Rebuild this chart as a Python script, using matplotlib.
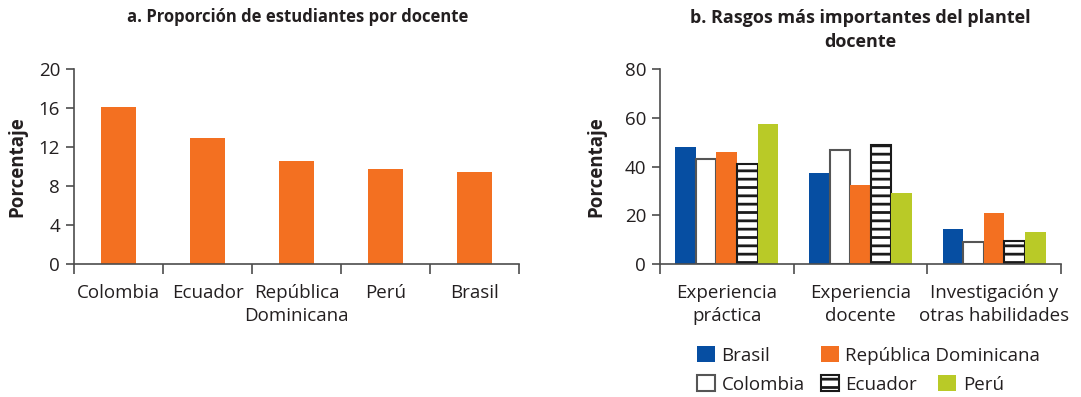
import numpy as np
import matplotlib.pyplot as plt

plt.rcParams['font.family'] = ['Open Sans', 'DejaVu Sans']
plt.rcParams['hatch.linewidth'] = 2.0

# a. estudiantes por docente
paises_a = ['Colombia', 'Ecuador', 'República\nDominicana', 'Perú', 'Brasil']
ratio_a = [16.1, 12.95, 10.55, 9.8, 9.4]

# b. rasgos del plantel docente
rasgos = ['Experiencia\npráctica', 'Experiencia\ndocente', 'Investigación y\notras habilidades']
series_b = ['Brasil', 'Colombia', 'República Dominicana', 'Ecuador', 'Perú']
brasil = [48.2, 37.3, 14.5]
colombia = [43.3, 46.8, 9.0]
rep_dom = [46.1, 32.5, 20.9]
ecuador = [41.0, 48.8, 9.7]
peru = [57.6, 29.2, 13.1]

texto = '#231f20'
eje = '#4d4d4d'
naranja = '#f37021'
azul = '#064ea2'
verde = '#b9ca27'

fig = plt.figure(figsize=(10.81, 3.97), dpi=100)
ax1 = fig.add_axes([0.0685, 0.3343, 0.4117, 0.492])
ax2 = fig.add_axes([0.6105, 0.3343, 0.371, 0.492])


def estilo_ejes(ax, n, ymax, paso, etiquetas, labelpad):
    for s in ['top', 'right']:
        ax.spines[s].set_visible(False)
    for s in ['left', 'bottom']:
        ax.spines[s].set_color(eje)
        ax.spines[s].set_linewidth(1.2)
    ax.set_xlim(-0.5, n - 0.5)
    ax.set_ylim(0, ymax)
    ax.set_yticks(np.arange(0, ymax + 1, paso))
    ax.set_xticks(np.arange(-0.5, n, 1.0))
    ax.set_xticklabels([])
    ax.set_xticks(np.arange(n), minor=True)
    ax.set_xticklabels(etiquetas, minor=True, fontsize=13.5, color=texto,
                       linespacing=1.4)
    ax.tick_params(axis='x', which='major', length=7, width=1.2, color=eje)
    ax.tick_params(axis='x', which='minor', length=0, pad=14)
    ax.tick_params(axis='y', length=6, width=1.2, color=eje, labelsize=13.5,
                   labelcolor=texto, pad=4)
    ax.set_ylabel('Porcentaje', fontsize=13.5, fontweight='bold', color=texto,
                  labelpad=labelpad)


# panel a
x = np.arange(len(paises_a))
ax1.bar(x, ratio_a, width=0.4, color=naranja, zorder=2)
estilo_ejes(ax1, len(paises_a), 20, 4, paises_a, 8)
fig.text(0.275, 0.957, 'a. Proporción de estudiantes por docente',
         fontsize=11.95, fontweight='bold', color=texto, ha='center', va='center')

# panel b
g = np.arange(len(rasgos))
w = 0.154
valores = [brasil, colombia, rep_dom, ecuador, peru]
estilos = [
    dict(color=azul),
    dict(facecolor='white', edgecolor='#555555', linewidth=1.5),
    dict(color=naranja),
    dict(facecolor='white', edgecolor='#1a1a1a', linewidth=1.5, hatch='--'),
    dict(color=verde),
]
barras = []
for i, (vals, est) in enumerate(zip(valores, estilos)):
    b = ax2.bar(g + (i - 2) * w, vals, width=w, zorder=2, **est)
    barras.append(b)
estilo_ejes(ax2, len(rasgos), 80, 20, rasgos, 13)
fig.text(0.7955, 0.924, 'b. Rasgos más importantes del plantel\ndocente',
         fontsize=13.0, fontweight='bold', color=texto, ha='center',
         va='center', linespacing=1.45)

# leyenda en dos filas
pos_leyenda = [(0.645, 0.105), (0.645, 0.032), (0.7595, 0.105),
               (0.7595, 0.032), (0.868, 0.032)]
for b, nombre, (lx, ly) in zip(barras, series_b, pos_leyenda):
    fig.legend([b], [nombre], loc='center left', bbox_to_anchor=(lx, ly),
               frameon=False, fontsize=13.5, handlelength=0.95,
               handleheight=0.95, handletextpad=0.35, borderpad=0,
               borderaxespad=0, labelcolor=texto)

fig.savefig('out.png', dpi=100)
